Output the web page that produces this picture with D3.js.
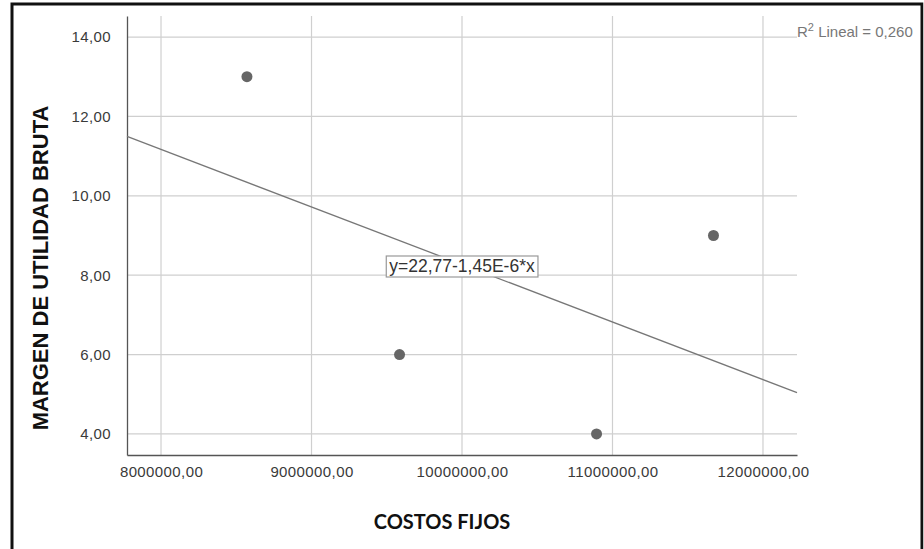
<!DOCTYPE html>
<html lang="es">
<head>
<meta charset="utf-8">
<title>Margen de utilidad bruta vs costos fijos</title>
<script src="https://d3js.org/d3.v7.min.js"></script>
<style>
  body { margin: 0; background: #fff; }
  .tick text { font-family: "Liberation Sans", Arial, sans-serif; font-size: 15px; letter-spacing: 0.4px; fill: #3a3a3a; }
  .grid line { stroke: #cfcfcf; stroke-width: 1.2px; }
</style>
</head>
<body>
<script>
// data
const costosFijos = [8571000, 9585000, 10894000, 11671000];
const margenBruto = [13, 6, 4, 9];
const xTicks = [8000000, 9000000, 10000000, 11000000, 12000000];
const yTicks = [4, 6, 8, 10, 12, 14];
const intercept = 22.77;
const slope = -1.45e-6;
const fitLabel = "y=22,77-1,45E-6*x";
const r2Label = "0,260";

const W = 924, H = 549;
const mLeft = 127, mRight = 797, mTop = 16, mBottom = 455;

const svg = d3.select("body").append("svg")
  .attr("width", W).attr("height", H);

// outer frame (no bottom edge)
svg.append("path")
  .attr("d", `M12,${H} L12,4 L922,4 L922,${H}`)
  .attr("fill", "none").attr("stroke", "#111").attr("stroke-width", 3);

const x = d3.scaleLinear().domain([7774000, 12226000]).range([mLeft, mRight]);
const y = d3.scaleLinear().domain([3.47, 14.53]).range([mBottom, mTop]);

const fmt = d => d3.format(".2f")(d).replace(".", ",");

// grid
svg.append("g").attr("class", "grid")
  .selectAll("line").data(xTicks).join("line")
  .attr("x1", d => x(d)).attr("x2", d => x(d))
  .attr("y1", mTop).attr("y2", mBottom);
svg.append("g").attr("class", "grid")
  .selectAll("line").data(yTicks).join("line")
  .attr("x1", mLeft).attr("x2", mRight)
  .attr("y1", d => y(d)).attr("y2", d => y(d));

// axes
const xAxis = d3.axisBottom(x).tickValues(xTicks).tickFormat(fmt).tickSize(0).tickPadding(11);
const gx = svg.append("g").attr("transform", `translate(0,${mBottom})`).call(xAxis);
gx.select(".domain").attr("stroke", "#555").attr("stroke-width", 1.3);

const yAxis = d3.axisLeft(y).tickValues(yTicks).tickFormat(fmt).tickSize(0).tickPadding(16);
const gy = svg.append("g").attr("transform", `translate(${mLeft},0)`).call(yAxis);
gy.select(".domain").attr("stroke", "#555").attr("stroke-width", 1.3);

// fit line
const xs = x.domain();
svg.append("line")
  .attr("x1", x(xs[0])).attr("y1", y(intercept + slope * xs[0]))
  .attr("x2", x(xs[1])).attr("y2", y(intercept + slope * xs[1]))
  .attr("stroke", "#777").attr("stroke-width", 1.3);

// points
svg.append("g").selectAll("circle")
  .data(costosFijos.map((c, i) => [c, margenBruto[i]]))
  .join("circle")
  .attr("cx", d => x(d[0])).attr("cy", d => y(d[1]))
  .attr("r", 5.5).attr("fill", "#666");

// equation label box
const lx = 462, ly = 266;
const lab = svg.append("g");
const t = lab.append("text")
  .attr("x", lx).attr("y", ly + 6)
  .attr("text-anchor", "middle")
  .attr("font-family", "Liberation Sans, Arial, sans-serif")
  .attr("font-size", 17.5).attr("fill", "#333")
  .text(fitLabel);
const bb = t.node().getBBox();
lab.insert("rect", "text")
  .attr("x", bb.x - 3).attr("y", bb.y)
  .attr("width", bb.width + 6).attr("height", bb.height + 1)
  .attr("fill", "#fff").attr("stroke", "#999").attr("stroke-width", 1.2);

// R2 label
const r2 = svg.append("text")
  .attr("x", 797).attr("y", 37)
  .attr("font-family", "Liberation Sans, Arial, sans-serif")
  .attr("font-size", 15).attr("fill", "#777");
r2.append("tspan").text("R");
r2.append("tspan").attr("dy", -6).attr("font-size", 11).text("2");
r2.append("tspan").attr("dy", 6).text(" Lineal = " + r2Label);

// axis titles
svg.append("text")
  .attr("x", 442).attr("y", 529)
  .attr("text-anchor", "middle")
  .attr("font-family", "Lato, Open Sans, sans-serif")
  .attr("font-weight", "bold").attr("font-size", 20).attr("fill", "#111")
  .text("COSTOS FIJOS");

svg.append("text")
  .attr("transform", "translate(48,268) rotate(-90)")
  .attr("text-anchor", "middle")
  .attr("font-family", "Liberation Sans, Arial, sans-serif")
  .attr("font-weight", "bold").attr("font-size", 22).attr("fill", "#111")
  .text("MARGEN DE UTILIDAD BRUTA");

// cover anything spilling past the right frame edge
svg.append("rect").attr("x", 923.5).attr("y", 0).attr("width", 10).attr("height", H).attr("fill", "#fff");
</script>
</body>
</html>
